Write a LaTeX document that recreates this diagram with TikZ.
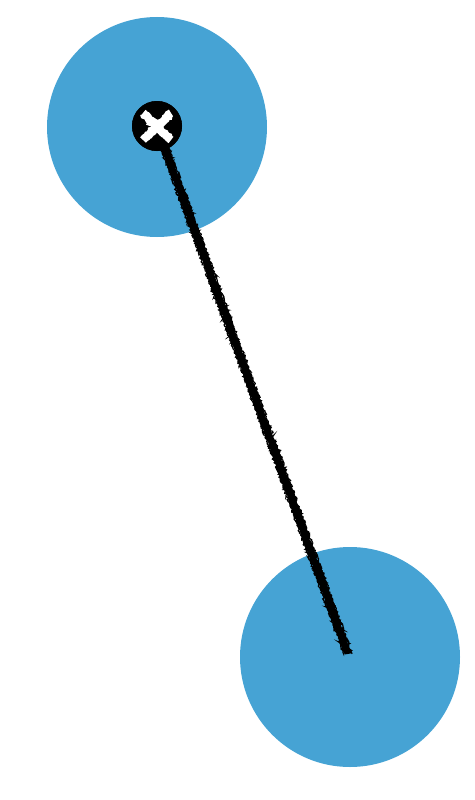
\documentclass[tikz,border=0pt]{standalone}
\usetikzlibrary{decorations.pathmorphing}
\definecolor{discblue}{RGB}{70,163,212}
\tikzset{
  disc/.style={circle, fill=discblue, minimum size=220pt, inner sep=0pt},
  pin/.style={circle, fill=black, minimum size=50pt, inner sep=0pt},
  chalk/.style={black, line width=7pt, decorate, decoration={random steps, segment length=1.5pt, amplitude=0.8pt}},
  chalkthin/.style={black, line width=1.2pt, decorate, decoration={random steps, segment length=1pt, amplitude=1.2pt}},
  cross/.style={white, line width=8pt, decorate, decoration={random steps, segment length=1.2pt, amplitude=0.7pt}}
}
\begin{document}
\begin{tikzpicture}[x=1pt,y=-1pt]
\useasboundingbox (0,0) rectangle (474,800);
\node[disc] (top) at (157,127) {};
\node[disc] (bottom) at (350,657) {};
\coordinate (tail) at (348,654);
\node[pin] (mark) at (157,126) {};
\draw[chalk] (mark.center) -- (tail);
\draw[chalkthin] ([xshift=-4pt]mark.center) -- ([xshift=-4pt]tail);
\draw[chalkthin] ([xshift=4pt]mark.center) -- ([xshift=4pt]tail);
\node[pin] at (mark) {};
\draw[cross] ([shift={(-14pt,-14pt)}]mark.center) -- ([shift={(14pt,13pt)}]mark.center);
\draw[cross] ([shift={(14pt,-14pt)}]mark.center) -- ([shift={(-14pt,13pt)}]mark.center);
\end{tikzpicture}
\end{document}
